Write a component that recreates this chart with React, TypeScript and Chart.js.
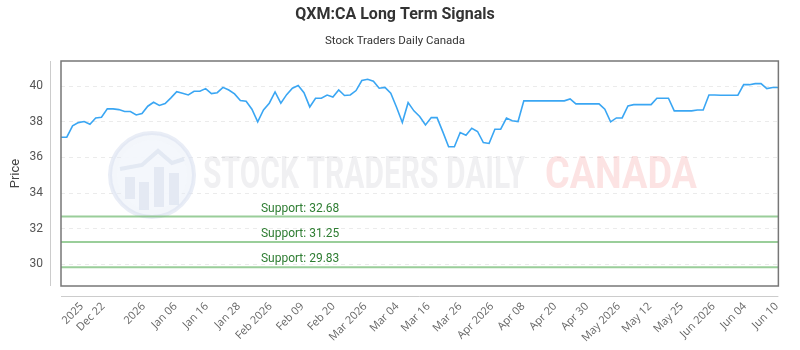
import React, { useEffect, useRef } from 'react';
import { Chart, registerables } from 'chart.js';

Chart.register(...registerables);

// ---- data ----
const prices: number[] = [
  37.14, 37.14, 37.78, 37.96, 38.02, 37.87, 38.22, 38.26, 38.73, 38.73,
  38.69, 38.58, 38.58, 38.39, 38.47, 38.88, 39.10, 38.92, 39.03, 39.35,
  39.70, 39.61, 39.51, 39.72, 39.72, 39.87, 39.59, 39.64, 39.94, 39.79,
  39.57, 39.20, 39.16, 38.71, 38.00, 38.67, 39.05, 39.68, 39.05, 39.53,
  39.89, 40.04, 39.64, 38.84, 39.33, 39.33, 39.51, 39.40, 39.79, 39.48,
  39.51, 39.76, 40.32, 40.39, 40.28, 39.89, 39.94, 39.61, 38.82, 37.96,
  39.08, 38.62, 38.30, 37.83, 38.24, 38.24, 37.44, 36.60, 36.60, 37.40,
  37.25, 37.64, 37.46, 36.84, 36.79, 37.59, 37.59, 38.21, 38.06, 38.02,
  39.18, 39.18, 39.18, 39.18, 39.18, 39.18, 39.18, 39.18, 39.29, 39.01,
  39.01, 39.01, 39.01, 39.01, 38.71, 38.00, 38.22, 38.22, 38.90, 38.97,
  38.97, 38.97, 38.97, 39.33, 39.33, 39.33, 38.62, 38.62, 38.62, 38.62,
  38.67, 38.67, 39.51, 39.51, 39.50, 39.50, 39.50, 39.50, 40.09, 40.09,
  40.15, 40.15, 39.87, 39.93, 39.93,
];

const tickLabels: string[] = [
  '2025', 'Dec 22', '2026', 'Jan 06', 'Jan 16', 'Jan 28', 'Feb 2026', 'Feb 09',
  'Feb 20', 'Mar 2026', 'Mar 04', 'Mar 16', 'Mar 26', 'Apr 2026', 'Apr 08',
  'Apr 20', 'Apr 30', 'May 2026', 'May 12', 'May 25', 'Jun 2026', 'Jun 04', 'Jun 10',
];
// position of each tick on the series (in data-point index units)
const tickIndex: number[] = [
  3.6, 7.3, 14.3, 19.8, 25.2, 30.7, 36.2, 41.7, 47.1, 52.6, 58.1, 63.5,
  69.0, 74.5, 79.9, 85.4, 90.9, 96.4, 101.8, 107.3, 112.8, 118.2, 123.7,
];

const supportLevels: number[] = [32.68, 31.25, 29.83];
const yTickValues: number[] = [30, 32, 34, 36, 38, 40];
const yMin = 28.78;
const yMax = 41.42;

const TITLE = 'QXM:CA Long Term Signals';
const SUBTITLE = 'Stock Traders Daily Canada';

const decorPlugin = {
  id: 'decor',
  beforeDatasetsDraw(chart: any) {
    const { ctx, chartArea: a, scales } = chart;
    const y = scales.y;
    ctx.save();
    // ---- watermark logo ----
    const cx = a.left + 91;
    const cy = a.top + 114;
    const r = 42;
    ctx.beginPath();
    ctx.arc(cx, cy, r, 0, Math.PI * 2);
    ctx.fillStyle = 'rgba(228,234,246,0.45)';
    ctx.fill();
    ctx.lineWidth = 4;
    ctx.strokeStyle = 'rgba(218,225,240,0.6)';
    ctx.stroke();
    ctx.beginPath();
    ctx.arc(cx, cy, r - 7, 0, Math.PI * 2);
    ctx.fillStyle = 'rgba(244,247,252,0.9)';
    ctx.fill();
    ctx.fillStyle = 'rgba(215,222,236,0.55)';
    const bars = [[-27, 10, 22], [-13, 15, 28], [2, 0, 40], [17, 6, 32]];
    bars.forEach(([dx, top, h]) => {
      ctx.fillRect(cx + dx, cy + 2 + top - 10, 10, h);
    });
    ctx.beginPath();
    ctx.moveTo(cx - 32, cy - 6);
    ctx.lineTo(cx - 10, cy - 10);
    ctx.lineTo(cx + 6, cy - 24);
    ctx.lineTo(cx + 20, cy - 12);
    ctx.lineTo(cx + 32, cy - 16);
    ctx.lineWidth = 4;
    ctx.strokeStyle = 'rgba(220,226,240,0.7)';
    ctx.stroke();
    // ---- watermark text ----
    ctx.textBaseline = 'middle';
    ctx.textAlign = 'left';
    ctx.font = 'bold 44px Roboto';
    const t1 = 'STOCK TRADERS DAILY';
    const w1 = ctx.measureText(t1).width;
    ctx.save();
    ctx.translate(a.left + 142, cy + 2);
    ctx.scale(322 / w1, 1);
    ctx.fillStyle = 'rgba(60,60,80,0.075)';
    ctx.fillText(t1, 0, 0);
    ctx.restore();
    const t2 = 'CANADA';
    const w2 = ctx.measureText(t2).width;
    ctx.save();
    ctx.translate(a.left + 484, cy + 2);
    ctx.scale(152 / w2, 1);
    ctx.fillStyle = 'rgba(235,70,70,0.15)';
    ctx.fillText(t2, 0, 0);
    ctx.restore();

    // ---- support lines ----
    supportLevels.forEach((v) => {
      const py = y.getPixelForValue(v);
      ctx.beginPath();
      ctx.moveTo(a.left, py);
      ctx.lineTo(a.right, py);
      ctx.lineWidth = 2;
      ctx.strokeStyle = 'rgba(120,190,120,0.75)';
      ctx.stroke();
      ctx.font = '12px Roboto';
      ctx.textAlign = 'center';
      ctx.textBaseline = 'bottom';
      ctx.fillStyle = '#2e7d32';
      ctx.fillText('Support: ' + v.toFixed(2), a.left + a.width / 3, py - 2);
    });
    ctx.restore();
  },
  afterDraw(chart: any) {
    const { ctx, chartArea: a } = chart;
    ctx.save();
    ctx.lineWidth = 1.5;
    ctx.strokeStyle = '#777';
    ctx.strokeRect(a.left, a.top, a.right - a.left, a.bottom - a.top);
    ctx.lineWidth = 1;
    ctx.strokeStyle = '#ccc';
    ctx.beginPath();
    ctx.moveTo(a.left - 10.5, a.top);
    ctx.lineTo(a.left - 10.5, a.bottom);
    ctx.moveTo(a.left, a.bottom + 10.5);
    ctx.lineTo(a.right, a.bottom + 10.5);
    ctx.stroke();
    ctx.restore();
  },
};

export default function App() {
  const ref = useRef<HTMLCanvasElement | null>(null);
  useEffect(() => {
    document.body.style.margin = '0';
    if (!ref.current) return;
    const chart = new Chart(ref.current, {
      type: 'line',
      data: {
        datasets: [
          {
            label: 'Price',
            data: prices.map((p, i) => ({ x: i, y: p })),
            borderColor: '#3aa6f3',
            borderWidth: 1.6,
            pointRadius: 0,
            tension: 0,
            fill: false,
          },
        ],
      },
      options: {
        animation: false,
        responsive: true,
        maintainAspectRatio: false,
        layout: { padding: { left: 0, right: 10, top: 0, bottom: 0 } },
        plugins: {
          legend: { display: false },
          tooltip: { enabled: false },
          title: {
            display: true,
            text: TITLE,
            color: '#333',
            font: { family: 'Roboto', size: 16, weight: 'bold' },
            padding: { top: 5, bottom: 10 },
          },
          subtitle: {
            display: true,
            text: SUBTITLE,
            color: '#333',
            font: { family: 'Roboto', size: 11.5 },
            padding: { top: 0, bottom: 13 },
          },
        },
        scales: {
          x: {
            type: 'linear',
            min: 0,
            max: prices.length - 1,
            afterBuildTicks: (scale: any) => {
              scale.ticks = tickIndex.map((v) => ({ value: v }));
            },
            afterFit: (scale: any) => {
              scale.height = 64;
            },
            grid: { display: false, drawTicks: false },
            border: { display: false },
            ticks: {
              autoSkip: false,
              maxRotation: 45,
              minRotation: 45,
              padding: 14,
              color: '#666',
              font: { family: 'Open Sans', size: 11 },
              callback: (_v: any, i: number) => tickLabels[i],
            },
          },
          y: {
            min: yMin,
            max: yMax,
            afterBuildTicks: (scale: any) => {
              scale.ticks = yTickValues.map((v) => ({ value: v }));
            },
            afterFit: (scale: any) => {
              scale.width = 61;
            },
            grid: { color: 'rgba(0,0,0,0.08)', drawTicks: false },
            border: { display: false, dash: [4, 4] },
            ticks: {
              padding: 18,
              color: '#555',
              font: { family: 'Roboto', size: 12 },
              callback: (v: any) => String(v),
            },
            title: {
              display: true,
              text: 'Price',
              color: '#444',
              font: { family: 'Roboto', size: 13 },
              padding: { top: 8, bottom: 0 },
            },
          },
        },
      },
      plugins: [decorPlugin],
    });
    return () => chart.destroy();
  }, []);
  return (
    <div style={{ position: 'relative', width: 800, height: 350 }}>
      <canvas ref={ref} />
    </div>
  );
}
